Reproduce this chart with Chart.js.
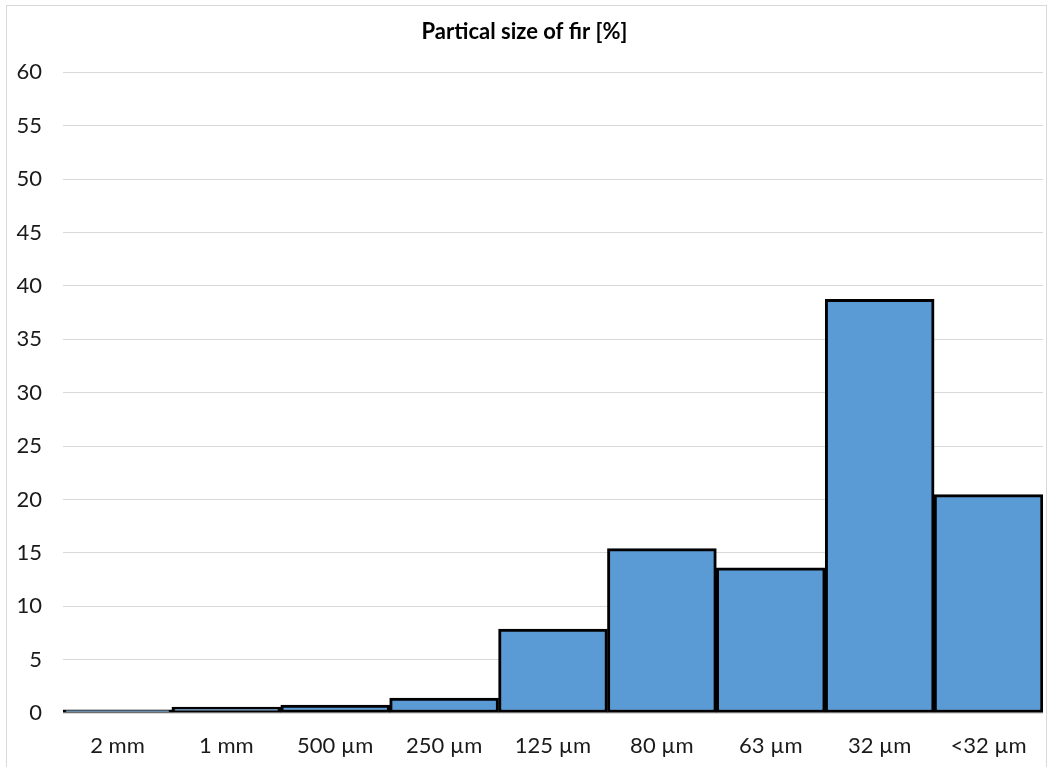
<!DOCTYPE html>
<html>
<head>
<meta charset="utf-8">
<script src="https://cdn.jsdelivr.net/npm/chart.js@4"></script>
<style>
  html, body { margin: 0; padding: 0; background: #fff; }
  #wrap { width: 1047px; height: 767px; }
</style>
</head>
<body>
<div id="wrap"><canvas id="sizeChart"></canvas></div>
<script>
var sizes = ['2 mm', '1 mm', '500 µm', '250 µm', '125 µm', '80 µm', '63 µm', '32 µm', '<32 µm'];
var percent = [0.3, 0.55, 0.75, 1.4, 7.85, 15.4, 13.6, 38.75, 20.45];
var yTicks = [0, 5, 10, 15, 20, 25, 30, 35, 40, 45, 50, 55, 60];

var fontName = 'Lato, "Open Sans", sans-serif';

// light frame round the whole chart, like the spreadsheet chart box
var framePlugin = {
    id: 'frame',
    beforeDraw: function(chart) {
        var c = chart.ctx;
        c.save();
        c.fillStyle = '#fff';
        c.fillRect(0, 0, chart.width, chart.height);
        c.strokeStyle = '#d9d9d9';
        c.lineWidth = 1;
        c.strokeRect(6.5, 5.5, 1040, 780);
        c.restore();
    }
};

var ctx = document.getElementById('sizeChart').getContext('2d');
var myChart = new Chart(ctx, {
    type: 'bar',
    data: {
        labels: sizes,
        datasets: [{
            label: 'Partical size of fir [%]',
            data: percent,
            backgroundColor: '#5B9BD5',
            borderColor: '#000',
            borderWidth: 3,
            borderSkipped: false,
            categoryPercentage: 1,
            barPercentage: 1
        }]
    },
    options: {
        responsive: true,
        maintainAspectRatio: false,
        animation: false,
        layout: { padding: { left: 6, right: 4, top: 0, bottom: 0 } },
        plugins: {
            legend: { display: false },
            tooltip: { enabled: false },
            title: {
                display: true,
                text: 'Partical size of fir [%]',
                color: '#000',
                font: { family: fontName, size: 22, weight: 'bold' },
                padding: { top: 19, bottom: 27 }
            }
        },
        scales: {
            x: {
                grid: { display: false, drawTicks: false },
                border: { display: false },
                ticks: {
                    color: '#1a1a1a',
                    font: { family: fontName, size: 22 },
                    padding: 20,
                    maxRotation: 0
                },
                afterFit: function(s) { s.height = 54; }
            },
            y: {
                min: 0,
                max: 60,
                afterBuildTicks: function(s) {
                    s.ticks = yTicks.map(function(v) { return { value: v }; });
                },
                grid: { color: '#d9d9d9', lineWidth: 1, drawTicks: false },
                border: { display: false },
                ticks: {
                    color: '#1a1a1a',
                    font: { family: fontName, size: 22 },
                    padding: 21
                },
                afterFit: function(s) { s.width = 57; }
            }
        }
    },
    plugins: [framePlugin]
});
</script>
</body>
</html>
